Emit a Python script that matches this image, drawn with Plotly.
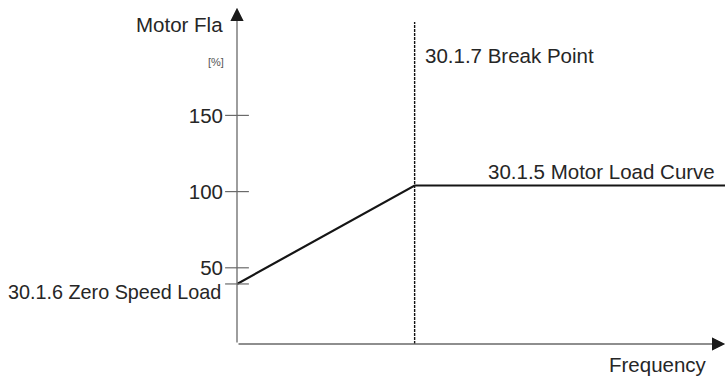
import plotly.graph_objects as go

# --- data ---
frequency = [0, 36.4, 100]          # relative frequency units (break point at 36.4)
motor_load = [39.4, 104, 104]       # motor load [%]
y_ticks = [50, 100, 150]
break_point = 36.4
zero_speed_load = 39.4

W, H = 725, 377
ML, MR, MT, MB = 237, 0, 0, 33
XR = [0, 100]
YR = [0, 344 / 1.524]
PW, PH = W - ML - MR, H - MT - MB

def px_y(p):
    return YR[0] + (H - MB - p) / PH * (YR[1] - YR[0])

def paper_x(p):
    return (p - ML) / PW

def paper_y(p):
    return (H - MB - p) / PH

FONT = "Liberation Sans, Arial, Helvetica, sans-serif"
FS = 20.5
TXT = "#262626"
AX = "#6a6a6a"
HEAD = "#1a1a1a"

fig = go.Figure()

# break point dashed line
fig.add_trace(go.Scatter(
    x=[break_point, break_point], y=[0, px_y(22)], mode="lines",
    line=dict(color="#111111", width=1.4, dash="3px,1px"),
    hoverinfo="skip", showlegend=False, cliponaxis=False))

# motor load curve
fig.add_trace(go.Scatter(
    x=frequency, y=motor_load, mode="lines",
    line=dict(color="#151515", width=2.2),
    showlegend=False, cliponaxis=False))

# tick marks crossing the y axis
fig.add_trace(go.Scatter(
    x=[0] * len(y_ticks), y=y_ticks, mode="markers",
    marker=dict(symbol="line-ew", size=17, line=dict(color=AX, width=1.2)),
    hoverinfo="skip", showlegend=False, cliponaxis=False))
fig.add_trace(go.Scatter(
    x=[0], y=[zero_speed_load], mode="markers",
    marker=dict(symbol="line-ew", size=17, line=dict(color=AX, width=1.2)),
    hoverinfo="skip", showlegend=False, cliponaxis=False))

def label(px, py, text, anchor, size=FS, color=TXT):
    return dict(x=paper_x(px), y=paper_y(py), xref="paper", yref="paper", text=text,
                showarrow=False, xanchor=anchor, yanchor="middle",
                font=dict(family=FONT, size=size, color=color))

def arrow(x, y, ax, ay, color):
    return dict(x=x, y=y, ax=ax, ay=ay, xref="x", yref="y", axref="x", ayref="y",
                text="", showarrow=True, arrowhead=2, arrowsize=2.0, arrowwidth=1.3,
                arrowcolor=color, standoff=0, startstandoff=0)

y_top = px_y(8)
annotations = [
    # axis lines with arrows
    arrow(0, y_top, 0, 0, AX),
    arrow(XR[1], 0, 0, 0, AX),
    # dark arrow heads
    arrow(0, y_top, 0, y_top - 8, HEAD),
    arrow(XR[1], 0, XR[1] - 2.6, 0, HEAD),
    label(225, 24, "Motor Fla", "right"),
    label(226, 62, "[%]", "right", size=11, color="#555555"),
    label(223, 292, "30.1.6 Zero Speed Load", "right", size=19.8),
    label(423, 56, "30.1.7 Break Point", "left"),
    label(486, 171, "30.1.5 Motor Load Curve", "left"),
    label(709, 364, "Frequency", "right"),
]

fig.update_layout(
    width=W, height=H,
    margin=dict(l=ML, r=MR, t=MT, b=MB, pad=0),
    paper_bgcolor="white", plot_bgcolor="white",
    xaxis=dict(range=XR, showgrid=False, zeroline=False, showline=False,
               showticklabels=False, ticks="", fixedrange=True),
    yaxis=dict(range=YR, showgrid=False, zeroline=False, showline=False,
               tickvals=y_ticks, ticktext=[str(v) for v in y_ticks],
               ticks="", ticklabelstandoff=13,
               tickfont=dict(family=FONT, size=FS, color=TXT), fixedrange=True),
    annotations=annotations,
    showlegend=False,
)

fig.write_html("out.html", config={"displayModeBar": False},
               post_script="document.body.style.margin='0';document.body.style.overflow='hidden';")
